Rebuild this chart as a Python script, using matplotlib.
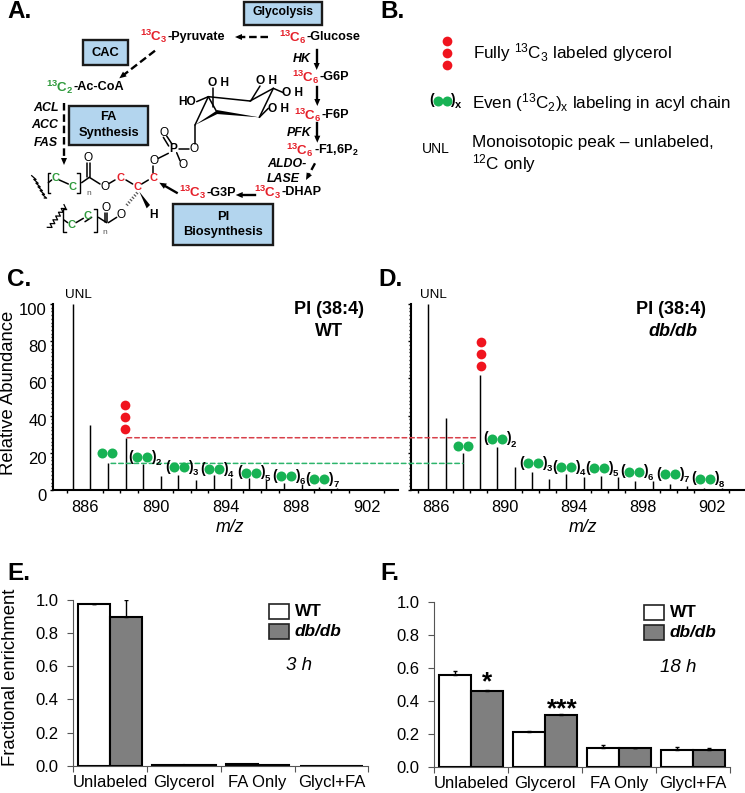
import numpy as np
import matplotlib
matplotlib.use("Agg")
import matplotlib.pyplot as plt
from matplotlib.patches import Rectangle, Polygon, ConnectionPatch
from matplotlib.transforms import ScaledTranslation

W, H = 745, 793
plt.rcParams['font.family'] = ['Liberation Sans', 'DejaVu Sans']
plt.rcParams['mathtext.default'] = 'regular'

# spectra, panels C and D
mz_wt = [885.3 + i for i in range(16)]
abund_wt = [100, 34.8, 14.7, 28.1, 13.8, 7.5, 8, 5.4, 7.9, 6.3, 6.3, 5.4, 3.9, 3.2, 1.8, 1.3]
mz_db = [885.57 + i for i in range(18)]
abund_db = [100, 38.5, 20, 61.8, 23.3, 12.2, 9.7, 5.7, 8.6, 7.2, 7.5, 7.2, 5, 4.8, 3, 2.3, 1.3, 0.9]
mz_ticks = [886, 890, 894, 898, 902]
abund_ticks = [0, 20, 40, 60, 80, 100]
wt_glycerol_level = 28.1
wt_acyl_level = 14.3

# enrichment bars, panels E and F
categories = ['Unlabeled', 'Glycerol', 'FA Only', 'Glycl+FA']
wt_3h = [0.975, 0.007, 0.012, 0.001]
db_3h = [0.90, 0.002, 0.004, 0.001]
wt_3h_err = [0, 0, 0, 0]
db_3h_err = [0.10, 0, 0, 0]
wt_18h = [0.557, 0.213, 0.119, 0.105]
db_18h = [0.463, 0.316, 0.115, 0.103]
wt_18h_err = [0.025, 0.006, 0.014, 0.016]
db_18h_err = [0.005, 0.006, 0.003, 0.012]
frac_ticks = [0.0, 0.2, 0.4, 0.6, 0.8, 1.0]

RED = '#f0141e'
GREEN = '#17b254'
TXT_RED = '#e5202a'
TXT_GREEN = '#2f9a3c'
BLUE = '#b3d5ee'

fig = plt.figure(figsize=(W/100, H/100), dpi=100)


def px_axes(l, t, r, b):
    return fig.add_axes([l/W, 1 - b/H, (r - l)/W, (b - t)/H])


def spectrum(ax, mz, abund, xlim):
    ax.vlines(mz, 0, abund, color='black', lw=1.05)
    ax.set_xlim(xlim)
    ax.set_ylim(0, 100)
    ax.spines['top'].set_visible(False)
    ax.spines['right'].set_visible(False)
    ax.spines['left'].set_linewidth(1.5)
    ax.spines['bottom'].set_linewidth(1.5)
    ax.set_xticks(mz_ticks)
    ax.set_xticks(np.arange(885, 904), minor=True)
    ax.set_yticks(np.arange(0, 101, 2), minor=True)
    ax.tick_params(axis='x', which='major', length=0, labelsize=11.8, pad=7)
    ax.tick_params(axis='x', which='minor', length=2, width=1)
    ax.tick_params(axis='y', which='minor', length=1.5, width=1, direction='out')
    ax.tick_params(axis='y', which='major', length=2.5, width=1, labelsize=12, pad=2)
    ax.patch.set_alpha(0)


ax_c = px_axes(53, 304, 398, 490)
spectrum(ax_c, mz_wt, abund_wt, (884.18, 903.78))
ax_c.set_yticks(abund_ticks)
for lab in ax_c.get_yticklabels():
    lab.set_transform(lab.get_transform() + ScaledTranslation(0, -3.5/72, fig.dpi_scale_trans))

ax_d = px_axes(410.7, 304, 745, 490)
spectrum(ax_d, mz_db, abund_db, (884.55, 903.93))
ax_d.set_yticks(abund_ticks)
ax_d.set_yticklabels([])

# dashed guides carried over from WT to db/db
ax_c_to_d = [(888.39, 888.38, wt_glycerol_level, '#d8404a'), (887.48, 887.58, wt_acyl_level, '#2db56c')]
for x_a, x_b, level, col in ax_c_to_d:
    fig.add_artist(ConnectionPatch((x_a, level), (x_b, level), coordsA=ax_c.transData,
                                   coordsB=ax_d.transData, color=col, lw=1.1, linestyle=(0, (3, 2))))


def bars(ax, wt, db, wt_err, db_err, ypad):
    x = np.arange(len(categories)) + 0.5
    w = 0.43
    ax.bar(x - w/2, wt, w, color='white', edgecolor='black', lw=1.5)
    ax.bar(x + w/2, db, w, color='#7f7f7f', edgecolor='black', lw=1.5)
    zeros = np.zeros(len(categories))
    ax.errorbar(x - w/2, wt, yerr=[zeros, wt_err], fmt='none', ecolor='black', elinewidth=1, capsize=1.5)
    ax.errorbar(x + w/2, db, yerr=[zeros, db_err], fmt='none', ecolor='black', elinewidth=1, capsize=1.5)
    ax.set_xlim(0, len(categories))
    ax.set_ylim(0, 1.0)
    ax.set_yticks(frac_ticks)
    ax.set_yticklabels(['%.1f' % v for v in frac_ticks])
    ax.set_xticks(np.arange(len(categories) + 1))
    ax.set_xticklabels([])
    ax.set_xticks(x, minor=True)
    ax.set_xticklabels(categories, minor=True)
    ax.tick_params(axis='x', which='minor', length=0, labelsize=12, pad=6.5)
    ax.tick_params(axis='x', which='major', length=4, width=0.8, color='#555555')
    ax.tick_params(axis='y', length=4, width=0.8, color='#555555', labelsize=12, pad=ypad)
    ax.spines['top'].set_visible(False)
    ax.spines['right'].set_visible(False)
    ax.spines['left'].set_color('#555555')
    ax.spines['bottom'].set_color('#555555')
    ax.spines['left'].set_linewidth(0.8)
    ax.spines['bottom'].set_linewidth(0.8)


ax_e = px_axes(73.3, 600, 368.3, 765.7)
bars(ax_e, wt_3h, db_3h, wt_3h_err, db_3h_err, 6.5)
ax_f = px_axes(434.3, 601.7, 730, 767.3)
bars(ax_f, wt_18h, db_18h, wt_18h_err, db_18h_err, 6.5)

# overlay in image pixels for the diagram and all annotations
ov = fig.add_axes([0, 0, 1, 1], zorder=10)
ov.set_xlim(0, W)
ov.set_ylim(H, 0)
ov.axis('off')


def txt(x, y, s, size=9, ha='center', va='center', **kw):
    ov.text(x, y, s, fontsize=size, ha=ha, va=va, **kw)


def box(l, t, r, b):
    ov.add_patch(Rectangle((l, t), r - l, b - t, fc=BLUE, ec='#1a1a1a', lw=1.7))


def arrow(x0, y0, x1, y1, dashed=False):
    d = np.hypot(x1 - x0, y1 - y0)
    ux, uy = (x1 - x0)/d, (y1 - y0)/d
    ls = (0, (3.2, 1.6)) if dashed else '-'
    ov.plot([x0, x1 - 5*ux], [y0, y1 - 5*uy], color='black', lw=1.7, ls=ls)
    ov.add_patch(Polygon([(x1, y1), (x1 - 7*ux - 3*uy, y1 - 7*uy + 3*ux),
                          (x1 - 7*ux + 3*uy, y1 - 7*uy - 3*ux)], fc='black', ec='none'))


def iso(x, y, label, rest, col=TXT_RED, size=9.1):
    txt(x, y, label, size + 0.5, ha='right', color=col, fontweight='bold')
    txt(x, y, rest, size, ha='left', fontweight='bold')


def dots(x, ys):
    ov.plot([x]*len(ys), ys, 'o', color=RED, ms=7, mew=0)


def pair(cx, y, n=None, gap=5):
    ov.plot([cx - gap, cx + gap], [y, y], 'o', color=GREEN, ms=7.2, mew=0)
    if n is not None:
        txt(cx - 11.5, y - 0.5, '(', 10, fontweight='bold')
        txt(cx + 11.5, y - 0.5, ')', 10, fontweight='bold')
        txt(cx + 16.5, y + 5.5, n, 6.8, fontweight='bold')


# panel letters
for x, y, s in [(7, 12, 'A.'), (380, 12, 'B.'), (7, 279, 'C.'), (378, 279, 'D.'), (7, 573, 'E.'), (380, 573, 'F.')]:
    txt(x, y, s, 17.5, ha='left', fontweight='bold')

# panel A: boxes and pathway
box(244, 1.7, 322, 25)
txt(283, 12.5, 'Glycolysis', 8.7, fontweight='bold')
box(82.7, 40.3, 128.3, 64.7)
txt(105.5, 52.5, 'CAC', 9.3, fontweight='bold')
box(69, 105.7, 148.3, 145)
txt(108.5, 117.5, 'FA', 9.3, fontweight='bold')
txt(108.5, 133, 'Synthesis', 9.3, fontweight='bold')
box(173.3, 204.3, 272.7, 245)
txt(223, 217, 'PI', 9.3, fontweight='bold')
txt(223, 232, 'Biosynthesis', 9.3, fontweight='bold')

iso(306.7, 37.3, '$^{13}C_6$', '-Glucose')
iso(167.7, 36.7, '$^{13}C_3$', '-Pyruvate')
iso(74, 87.3, '$^{13}C_2$', '-Ac-CoA', col=TXT_GREEN)
iso(319.3, 77.3, '$^{13}C_6$', '-G6P')
iso(321.7, 115, '$^{13}C_6$', '-F6P')
iso(314, 150.5, '$^{13}C_6$', '-F1,6P$_2$')
iso(281.7, 192.3, '$^{13}C_3$', '-DHAP')
iso(206.7, 192.7, '$^{13}C_3$', '-G3P')

for x, y, s, ha in [(58.3, 108, 'ACL', 'right'), (58.3, 125, 'ACC', 'right'), (58.3, 142.7, 'FAS', 'right'),
                    (301.7, 59, 'HK', 'center'), (299, 132.7, 'PFK', 'center'),
                    (286.7, 164, 'ALDO-', 'center'), (283.3, 179, 'LASE', 'center')]:
    txt(x, y, s, 8.9, ha=ha, fontweight='bold', fontstyle='italic')

arrow(268, 37, 235, 37, dashed=True)
arrow(155, 50.7, 119.3, 78.3, dashed=True)
arrow(64, 103, 64, 165, dashed=True)
arrow(315, 163.3, 306, 180, dashed=True)
arrow(316.7, 50, 316.7, 70)
arrow(317.3, 87.3, 317.3, 106)
arrow(317.3, 123.3, 317.3, 142.7)
arrow(255, 195, 235.7, 195)
arrow(176.7, 192.7, 159.3, 182.7)

# structure, traced at 3x scale
bonds = [
    [(590, 305), (625, 290)], [(625, 290), (750, 303)], [(750, 303), (820, 265)], [(820, 265), (778, 352)],
    [(650, 335), (625, 290)], [(585, 375), (625, 290)],
    [(640, 265), (640, 320)], [(780, 258), (752, 303)], [(820, 265), (850, 278)], [(805, 325), (778, 352)],
    [(585, 375), (585, 432)], [(568, 447), (536, 447)], [(505, 460), (475, 475)], [(530, 458), (540, 482)],
    [(506, 438), (490, 412)], [(516, 432), (500, 408)],
    [(460, 497), (460, 520)], [(445, 540), (425, 552)], [(398, 552), (378, 540)], [(345, 540), (328, 550)],
    [(300, 552), (268, 532)], [(262, 530), (262, 490)], [(270, 530), (270, 490)], [(268, 532), (245, 548)],
    [(205, 552), (178, 540)], [(155, 540), (145, 548)],
    [(350, 652), (325, 668)], [(314, 665), (314, 640)], [(322, 665), (322, 640)], [(320, 668), (295, 652)],
    [(275, 652), (255, 665)] , [(228, 668), (250, 655)], [(203, 668), (192, 660)],
]
for (x0, y0), (x1, y1) in bonds:
    ov.plot([x0/3, x1/3], [y0/3, y1/3], color='black', lw=1.1, solid_capstyle='round')
for pts in [[(778, 352), (650, 330), (650, 342)], [(585, 375), (650, 332), (652, 342)],
            [(418, 575), (440, 625), (450, 615)]]:
    ov.add_patch(Polygon([(x/3, y/3) for x, y in pts], fc='black', ec='none'))
ov.plot([412/3, 378/3], [578/3, 618/3], color='#555555', lw=2.2, ls=(0, (0.4, 0.6)))

# acyl brackets and terminal zigzags
for l, r, t, b in [(143, 240, 518, 580), (190, 290, 628, 695)]:
    ov.plot([(l + 8)/3, l/3, l/3, (l + 8)/3], [t/3, t/3, b/3, b/3], color='black', lw=1)
    ov.plot([(r - 8)/3, r/3, r/3, (r - 8)/3], [t/3, t/3, b/3, b/3], color='black', lw=1)
for (x0, y0, x1, y1) in [(100, 530, 138, 597), (147, 685, 197, 617)]:
    ts = np.linspace(0, 1, 13)
    xs = (x0 + (x1 - x0)*ts + np.where(np.arange(13) % 2, 5, -5))/3
    ys = (y0 + (y1 - y0)*ts + np.where(np.arange(13) % 2, 3, -3))/3
    ov.plot(xs, ys, color='black', lw=0.9)

for x, y, s, col, w, sz in [
    (655, 250, 'O H', 'black', 'bold', 8.6), (800, 242, 'O H', 'black', 'bold', 8.6), (878, 280, 'O H', 'black', 'bold', 8.6),
    (835, 328, 'O H', 'black', 'bold', 8.6), (562, 306, 'HO', 'black', 'bold', 8.6), (583, 447, 'O', 'black', 'normal', 8.6),
    (520, 447, 'P', 'black', 'bold', 8.6), (492, 400, 'O', 'black', 'normal', 8.6), (548, 495, 'O', 'black', 'normal', 8.6),
    (462, 483, 'O', 'black', 'normal', 8.6), (460, 533, 'C', TXT_RED, 'bold', 8), (412, 560, 'C', TXT_RED, 'bold', 8),
    (362, 533, 'C', TXT_RED, 'bold', 8), (315, 560, 'O', 'black', 'normal', 8.6), (265, 475, 'O', 'black', 'normal', 8.6),
    (217, 562, 'C', TXT_GREEN, 'bold', 8), (167, 533, 'C', TXT_GREEN, 'bold', 8), (362, 645, 'O', 'black', 'normal', 8.6),
    (460, 645, 'H', 'black', 'bold', 8.6), (318, 625, 'O', 'black', 'normal', 8.6), (263, 647, 'C', TXT_GREEN, 'bold', 8),
    (215, 675, 'C', TXT_GREEN, 'bold', 8),
]:
    txt(x/3, y/3, s, sz, color=col, fontweight=w)
txt(267/3, 580/3, 'n', 6, color='#555555')
txt(315/3, 697/3, 'n', 6, color='#555555')

# panel B key
dots(447.3, [41.3, 53.3, 65])
txt(473.3, 52.7, 'Fully $^{13}C_3$ labeled glycerol', 12.3, ha='left')
pair(442.5, 100.7, gap=4.2)
txt(431.5, 100.2, '(', 10, fontweight='bold')
txt(452.5, 100.2, ')', 10, fontweight='bold')
txt(458, 105.5, 'x', 8, fontweight='bold')
txt(471.7, 102.7, 'Even ($^{13}C_2$)$_x$ labeling in acyl chain', 12.3, ha='left')
txt(435.7, 149, 'UNL', 10)
txt(471.7, 142.7, 'Monoisotopic peak \u2013 unlabeled,', 12.3, ha='left')
txt(471.7, 164, '$^{12}C$ only', 12.3, ha='left')

# panel C annotations
txt(9, 393, 'Relative Abundance', 13.3, rotation=90)
txt(78, 295, 'UNL', 9.6)
txt(329, 310, 'PI (38:4)', 13, fontweight='bold')
txt(329, 332, 'WT', 13, fontweight='bold')
txt(230, 527, 'm/z', 12.8, fontstyle='italic')
dots(125, [405, 417, 429])
pair(107, 452.7)
for cx, y, n in [(142.3, 457.3, '2'), (179.3, 467.3, '3'), (214, 469, '4'), (250.7, 472.7, '5'),
                 (285.7, 476.3, '6'), (319.3, 479, '7')]:
    pair(cx, y, n)

# panel D annotations
txt(433, 295, 'UNL', 9.6)
txt(671, 310, 'PI (38:4)', 13, fontweight='bold')
txt(673, 332, 'db/db', 13, fontweight='bold', fontstyle='italic')
txt(583, 527, 'm/z', 12.8, fontstyle='italic')
dots(481, [342, 353.7, 365.7])
pair(462.8, 446.3)
for cx, y, n in [(497.3, 438.7, '2'), (532.7, 463, '3'), (565.7, 467.3, '4'), (599, 468.3, '5'),
                 (634, 471.7, '6'), (670, 474.3, '7'), (704.7, 478.7, '8')]:
    pair(cx, y, n)

# panels E and F annotations
txt(11, 677, 'Fractional enrichment', 13.3, rotation=90)
for bx, tx, t1, t2 in [(268.7, 295, 604.3, 624), (644.3, 670, 605, 624.7)]:
    ov.add_patch(Rectangle((bx, t1), 20, 15, fc='white', ec='#222222', lw=1.2))
    ov.add_patch(Rectangle((bx, t2), 20, 15, fc='#7f7f7f', ec='#222222', lw=1.2))
    txt(tx, t1 + 7.5, 'WT', 12.4, ha='left', fontweight='bold')
    txt(tx, t2 + 7.5, 'db/db', 12.4, ha='left', fontweight='bold', fontstyle='italic')
txt(299, 665, '3 h', 13.5, fontstyle='italic')
txt(677.7, 667, '18 h', 13.5, fontstyle='italic')
txt(487.3, 682, '*', 19, fontweight='bold')
txt(562.3, 709, '***', 19, fontweight='bold')

fig.savefig('out.png', dpi=100)
